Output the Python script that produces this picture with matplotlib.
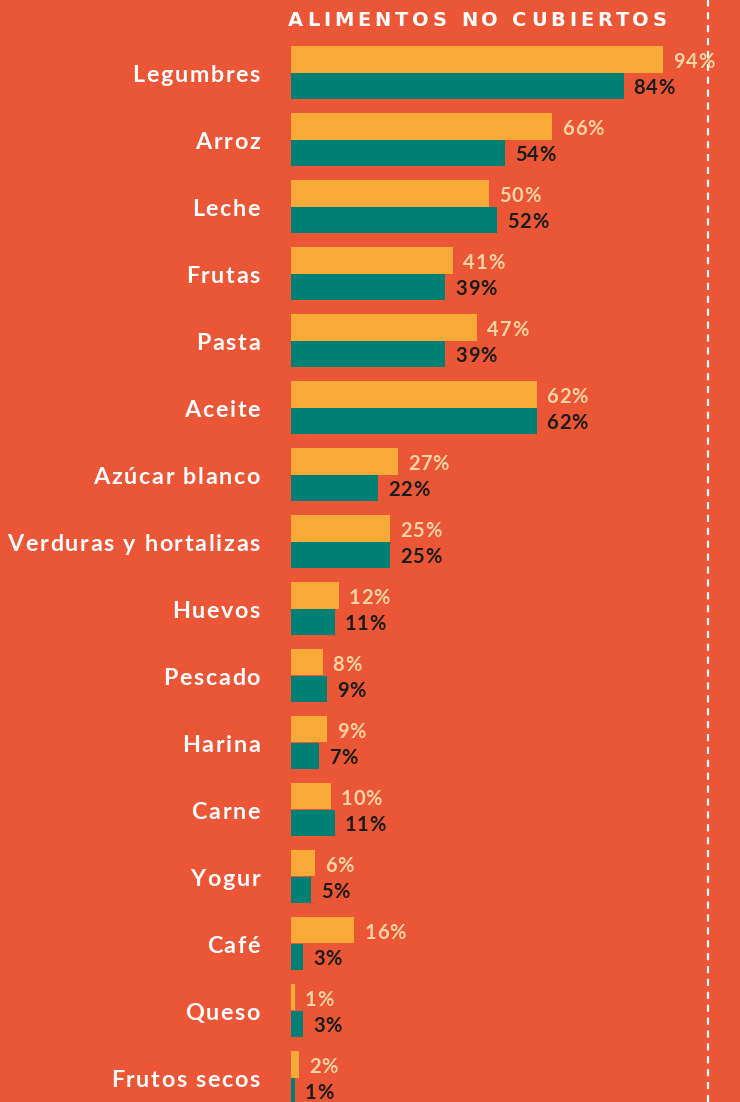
import matplotlib
matplotlib.use("Agg")
import matplotlib.pyplot as plt
from matplotlib.font_manager import FontProperties
import numpy as np

categories = ["Legumbres", "Arroz", "Leche", "Frutas", "Pasta", "Aceite",
              "Azúcar blanco", "Verduras y hortalizas", "Huevos", "Pescado",
              "Harina", "Carne", "Yogur", "Café", "Queso", "Frutos secos"]
serie_a = [94, 66, 50, 41, 47, 62, 27, 25, 12, 8, 9, 10, 6, 16, 1, 2]
serie_b = [84, 54, 52, 39, 39, 62, 22, 25, 11, 9, 7, 11, 5, 3, 3, 1]
title = "ALIMENTOS NO CUBIERTOS"
ref_line = 105.3

BG = "#EA5636"
YEL = "#F8AA38"
TEAL = "#007F74"
PEACH = "#FCD3A2"
DARK = "#1B1B1B"
FONT = ["Lato", "DejaVu Sans"]

W, H = 740, 1102
fig = plt.figure(figsize=(W / 100, H / 100), dpi=100, facecolor=BG)
ax = fig.add_axes([0, 0, 1, 1])
ax.set_facecolor(BG)

scale = 3.96  # px per %
x0 = 291
ax.set_xlim(-x0 / scale, (W - x0) / scale)
pitch = 67.0
c0 = 72.5
ax.set_ylim((H - c0) / pitch, -c0 / pitch)
ax.axis("off")

y = np.arange(len(categories))
bh = 26.5 / pitch
ax.barh(y - bh / 2, serie_a, height=bh, color=YEL, linewidth=0)
ax.barh(y + bh / 2, serie_b, height=bh, color=TEAL, linewidth=0)

ax.axvline(ref_line, color="white", lw=1.6, ls=(0, (3.2, 2.6)))

fig.canvas.draw()
r = fig.canvas.get_renderer()


def advances(s, prop):
    adv = []
    prev = 0.0
    for k in range(1, len(s) + 1):
        w, _, _ = r.get_text_width_height_descent(s[:k].replace(" ", "\u00a0"), prop, ismath=False)
        adv.append(w - prev)
        prev = w
    return adv


def tracked(xp, yp, s, prop, color, track, align="left"):
    """Draw string s with letter spacing; xp,yp in display pixels (baseline)."""
    adv = advances(s, prop)
    total = sum(adv) + track * (len(s) - 1)
    x = xp - total if align == "right" else xp
    for ch, a in zip(s, adv):
        if ch != " ":
            fig.text(x / W, yp / H, ch, fontproperties=prop, color=color,
                     va="baseline", ha="left")
        x += a + track


pv = FontProperties(family=FONT, size=14.5, weight="bold")
pl = FontProperties(family=FONT, size=16.8, weight="bold")
for i, (a, b) in enumerate(zip(serie_a, serie_b)):
    pa = ax.transData.transform((a, i - bh / 2))
    pb = ax.transData.transform((b, i + bh / 2))
    pc = ax.transData.transform((0, i))
    tracked(pa[0] + 10, pa[1] - 8.5, f"{a}%", pv, PEACH, 0.8)
    tracked(pb[0] + 10, pb[1] - 8.3, f"{b}%", pv, DARK, 0.8)
    tracked(pc[0] - 31, pc[1] - 9.5, categories[i], pl, "white", 1.7,
            align="right")

pt = FontProperties(family=["DejaVu Sans"], size=14, weight="bold")
tw = sum(advances(title, pt))
trk = (379 - tw) / (len(title) - 1)
tracked(288, H - 26, title, pt, "white", trk)

fig.savefig("out.png", dpi=100, facecolor=BG)
